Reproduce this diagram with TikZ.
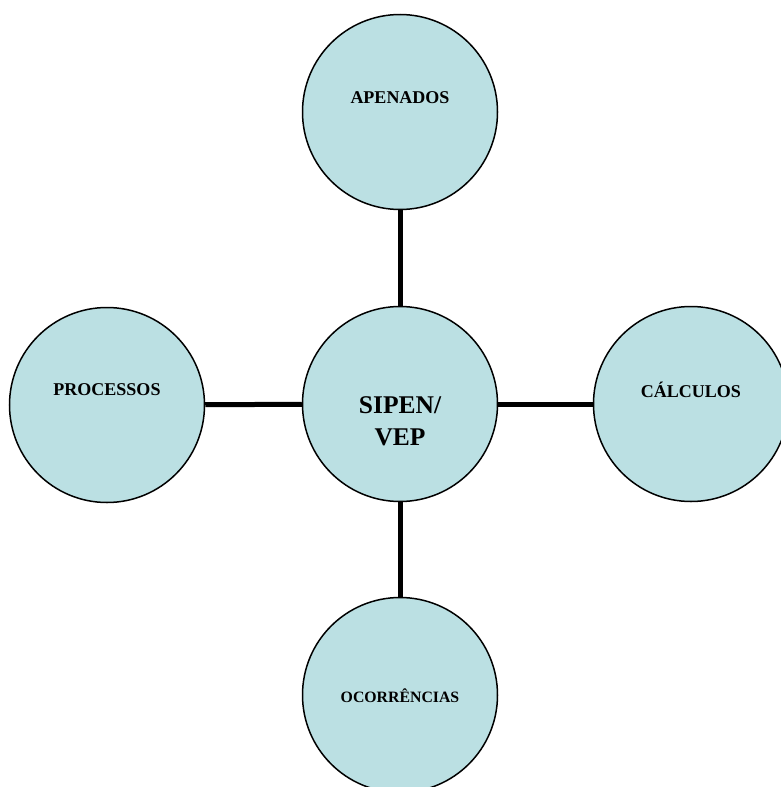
\documentclass[tikz,border=0pt]{standalone}
\usepackage{fontspec}
\setmainfont{Liberation Serif}
\definecolor{bubble}{RGB}{187,224,227}
\begin{document}
\begin{tikzpicture}[x=1pt,y=-1pt,
  bub/.style={circle,draw=black,line width=1.5pt,fill=bubble,minimum size=195pt,inner sep=0pt},
  lbl/.style={font=\fontsize{18}{21}\selectfont\bfseries,align=center},
  sml/.style={font=\fontsize{15.8}{19}\selectfont\bfseries,align=center},
  big/.style={font=\fontsize{25.5}{32}\selectfont\bfseries,align=center},
  conn/.style={line width=5pt,draw=black}]
\useasboundingbox (0,0) rectangle (780,787);
\node[bub] (c) at (400,404) {};
\node[bub] (t) at (400,112) {};
\node[bub] (l) at (107,405) {};
\node[bub] (r) at (691,404) {};
\node[bub] (b) at (400,695) {};
\draw[conn] (t) -- (c);
\draw[conn] (l) -- (c);
\draw[conn] (r) -- (c);
\draw[conn] (b) -- (c);
\node[big] (ct) at (400,421) {SIPEN/\\VEP};
\node[lbl] (tt) at (400,98) {APENADOS};
\node[lbl] (lt) at (107,390) {PROCESSOS};
\node[lbl] (rt) at (691,390) {CÁLCULOS};
\node[sml] (bt) at (400,696) {OCORRÊNCIAS};
\end{tikzpicture}
\end{document}
